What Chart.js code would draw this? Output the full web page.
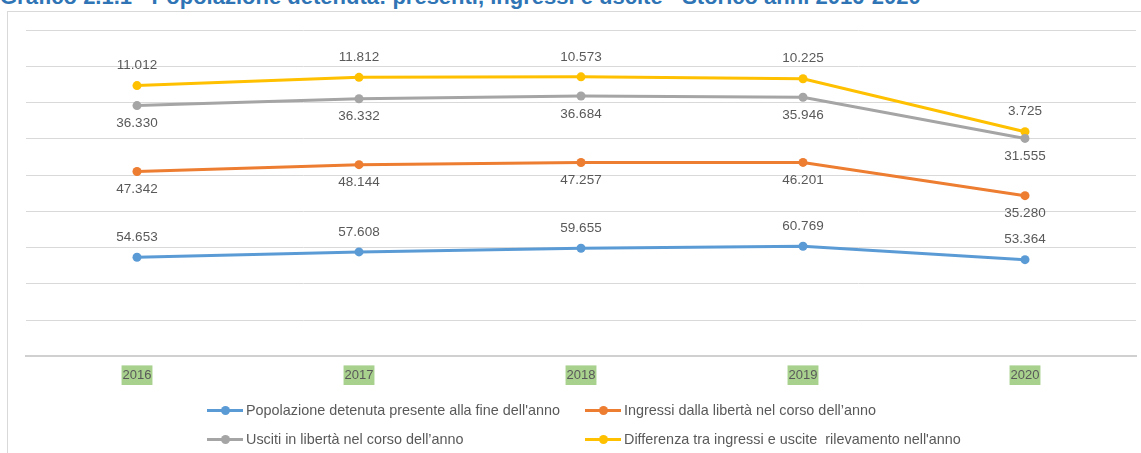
<!DOCTYPE html>
<html>
<head>
<meta charset="utf-8">
<script src="https://cdn.jsdelivr.net/npm/chart.js@4.4.1/dist/chart.umd.min.js"></script>
<style>
  body { margin: 0; background: #fff; overflow: hidden; }
  #wrap { position: relative; width: 1141px; height: 453px; overflow: hidden; }
  #title {
    position: absolute; left: 0; top: -16px; line-height: 26px;
    font: bold 22px "Liberation Sans", Arial, sans-serif; color: #2f75b5; white-space: nowrap;
  }
  #frame {
    position: absolute; left: 7px; top: 11px; width: 1200px; height: 500px;
    border-left: 1px solid #d9d9d9; border-top: 1px solid #d9d9d9;
  }
  #box { position: absolute; left: 0; top: 0; width: 1141px; height: 453px; }
  .leg {
    position: absolute; font: 14.4px "Liberation Sans", Arial, sans-serif; color: #595959;
    white-space: pre; line-height: 16px; display: flex; align-items: center;
  }
  .mk { position: relative; width: 36px; height: 3px; margin-right: 3px; }
  .mk i { position: absolute; left: 14px; top: -3px; width: 9px; height: 9px; border-radius: 50%; }
</style>
</head>
<body>
<div id="wrap">
  <div id="frame"></div>
  <div id="title">Grafico 2.1.1 - Popolazione detenuta: presenti, ingressi e uscite - Storico anni 2016-2020</div>
  <div id="box"><canvas id="chart"></canvas></div>
  <div id="legend"></div>
</div>
<script>
// dati (valori per serie, il grafico e' a linee in pila)
const anni = ['2016', '2017', '2018', '2019', '2020'];
const presenti = [54653, 57608, 59655, 60769, 53364];
const ingressi = [47342, 48144, 47257, 46201, 35280];
const usciti = [36330, 36332, 36684, 35946, 31555];
const differenza = [11012, 11812, 10573, 10225, 3725];

const nomi = [
  "Popolazione detenuta presente alla fine dell'anno",
  "Ingressi dalla libertà nel corso dell’anno",
  "Usciti in libertà nel corso dell’anno",
  "Differenza tra ingressi e uscite  rilevamento nell'anno"
];
const colori = ['#5b9bd5', '#ed7d31', '#a5a5a5', '#ffc000'];
const posEtichetta = ['sopra', 'sotto', 'sotto', 'sopra'];

function formatNum(v) {
  return String(v).replace(/\B(?=(\d{3})+(?!\d))/g, '.');
}

// etichette dei valori sopra/sotto ai punti
const etichettePlugin = {
  id: 'etichette',
  afterDatasetsDraw(chart) {
    const ctx = chart.ctx;
    ctx.save();
    ctx.font = '13.5px "Liberation Sans", Arial, sans-serif';
    ctx.fillStyle = '#595959';
    ctx.textAlign = 'center';
    ctx.textBaseline = 'middle';
    chart.data.datasets.forEach((ds, i) => {
      const meta = chart.getDatasetMeta(i);
      meta.data.forEach((pt, j) => {
        const dy = posEtichetta[i] === 'sopra' ? -20 : 18;
        ctx.fillText(formatNum(ds.data[j]), pt.x, pt.y + dy);
      });
    });
    ctx.restore();
  }
};

const serie = [presenti, ingressi, usciti, differenza];

new Chart(document.getElementById('chart'), {
  type: 'line',
  data: {
    labels: anni,
    datasets: serie.map((d, i) => ({
      label: nomi[i],
      data: d,
      borderColor: colori[i],
      backgroundColor: colori[i],
      borderWidth: 3,
      pointRadius: 4.5,
      pointHoverRadius: 4.5,
      pointBorderWidth: 0,
      fill: false,
      tension: 0
    }))
  },
  options: {
    responsive: true,
    maintainAspectRatio: false,
    animation: false,
    layout: { padding: { left: 26, right: 5, top: 30, bottom: 59 } },
    plugins: {
      legend: { display: false },
      tooltip: { enabled: false }
    },
    scales: {
      x: {
        offset: true,
        grid: { display: false, drawTicks: false },
        border: { display: true, color: '#d0d0d0', width: 2 },
        ticks: {
          color: '#595959',
          font: { family: '"Liberation Sans", Arial, sans-serif', size: 13 },
          padding: 11,
          maxRotation: 0,
          showLabelBackdrop: true,
          backdropColor: '#a9d18e',
          backdropPadding: { x: 1, y: 2 }
        }
      },
      y: {
        stacked: true,
        min: 0,
        max: 180000,
        ticks: { display: false, stepSize: 20000 },
        grid: { color: '#d9d9d9', drawTicks: false },
        border: { display: false }
      }
    }
  },
  plugins: [etichettePlugin]
});

// legenda in due colonne
const legPos = [[207, 410], [585, 410], [207, 439], [585, 439]];
const leg = document.getElementById('legend');
nomi.forEach((n, i) => {
  const el = document.createElement('div');
  el.className = 'leg';
  el.style.left = legPos[i][0] + 'px';
  el.style.top = (legPos[i][1] - 8) + 'px';
  el.innerHTML = '<span class="mk" style="background:' + colori[i] + '"><i style="background:' + colori[i] + '"></i></span>';
  el.appendChild(document.createTextNode(n));
  leg.appendChild(el);
});
</script>
</body>
</html>
